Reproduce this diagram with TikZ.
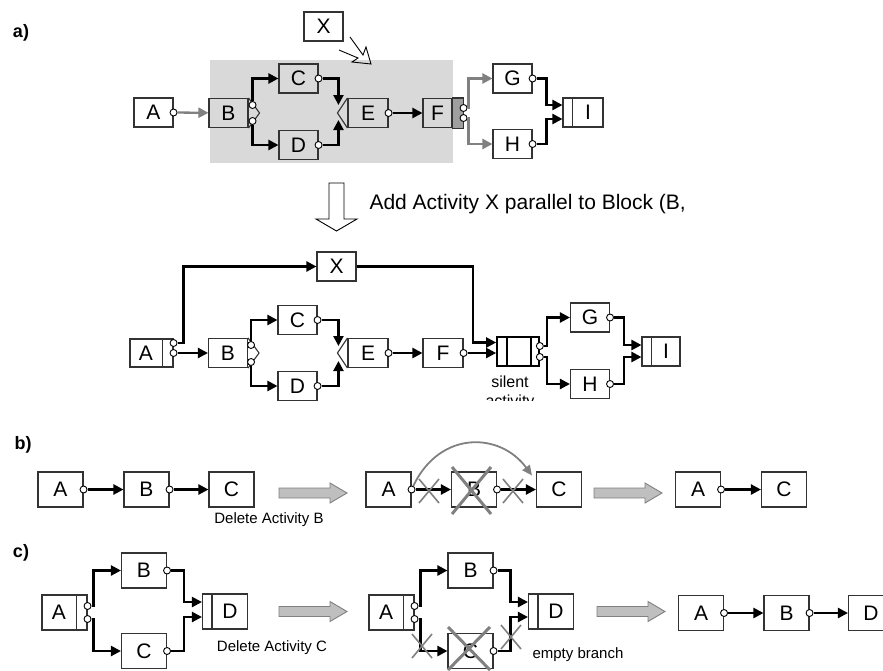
\documentclass[tikz,border=0pt]{standalone}
\usepackage{fontspec}
\setmainfont{Liberation Sans}
\usetikzlibrary{arrows.meta}

\newcommand{\actfont}{\fontsize{21}{24}\selectfont}
\newcommand{\notefont}{\fontsize{15}{18}\selectfont}
\newcommand{\partfont}{\fontsize{18}{20}\selectfont\bfseries}

\tikzset{
  boxline/.style={draw=black!80, line width=1.1pt},
  box/.style={boxline, minimum width=39pt, minimum height=29pt, inner sep=0pt, font=\actfont},
  bigbox/.style={box, minimum width=45pt, minimum height=35pt},
  port/.style={circle, draw=black, fill=white, line width=0.9pt, minimum size=7pt, inner sep=0pt},
  flow/.style={line width=2.3pt, -{Triangle[length=10pt,width=10pt]}},
  oldflow/.style={flow, draw=gray, -{Triangle[length=10pt,width=10pt,fill=gray]}},
  cross/.style={draw=gray, line width=1.6pt},
  bigcross/.style={draw=gray, line width=3pt},
  xmark/.pic={\draw[cross] (-10,-12) -- (10,12) (-10,12) -- (10,-12);},
  fatarrow/.pic={\draw[draw=gray, fill=gray!50, line width=0.9pt]
    (0,-5) -- (51,-5) -- (51,-10) -- (68,0) -- (51,10) -- (51,5) -- (0,5) -- cycle;}
}

\begin{document}
\begin{tikzpicture}[x=1pt, y=-1pt]
\useasboundingbox (0,0) rectangle (883,670);

% ---- a) process before the change
\node[font=\partfont] (la) at (21,33) {a)};
\fill[gray!30] (210,60) rectangle (453,163);
\node[box] (X) at (323.5,26.5) {X};
\draw[line width=0.9pt] (350,37) -- (363,55) -- (366,47) -- (371,64) -- (352,62) -- (358,58) -- (339,50);

\node[box] (A) at (153.5,112.5) {A};
\node[box] (B) at (228.5,113) {B};
\draw[boxline] (B.north east) -- ([xshift=11pt]B.east) -- (B.south east);
\node[box] (C) at (298.5,78.5) {C};
\node[box] (D) at (298.5,145) {D};
\node[box, minimum width=40pt] (E) at (368,113) {E};
\draw[boxline] (E.north west) -- ([xshift=-10pt]E.west) -- (E.south west);
\coordinate (Ej1) at ([xshift=-9pt,yshift=8pt]E.west);
\coordinate (Ej2) at ([xshift=-9pt,yshift=-7pt]E.west);
\node[box, minimum width=29pt] (F) at (437.5,113) {F};
\draw[boxline, fill=gray!75] (F.north east) rectangle ([xshift=11pt]F.south east);
\node[box] (G) at (512.5,78.5) {G};
\node[box] (H) at (512.5,144) {H};
\node[box, minimum width=40pt] (I) at (583,112.5) {\hspace*{10pt}I};
\draw[boxline] ([xshift=10pt]I.north west) -- ([xshift=10pt]I.south west);

\node[port] (pA) at (A.east) {};
\node[port] (pB1) at ([xshift=4pt,yshift=8pt]B.east) {};
\node[port] (pB2) at ([xshift=4pt,yshift=-8pt]B.east) {};
\node[port] (pC) at (C.east) {};
\node[port] (pD) at (D.east) {};
\node[port] (pE) at (E.east) {};
\node[port] (pF1) at ([xshift=11pt,yshift=5pt]F.east) {};
\node[port] (pF2) at ([xshift=11pt,yshift=-5pt]F.east) {};
\node[port] (pG) at (G.east) {};
\node[port] (pH) at (H.east) {};

\draw[oldflow] (pA) -- (B);
\draw[flow] (pB1) |- (C);
\draw[flow] (pB2) |- (D);
\draw[flow] (pC) -| (Ej1);
\draw[flow] (pD) -| (Ej2);
\draw[flow] (pE) -- (F);
\draw[oldflow] (pF1) -- ++(5,0) |- (G);
\draw[oldflow] (pF2) -- ++(5,0) |- (H);
\draw[flow] (pG) -- ++(14,0) |- ([yshift=7.5pt]I.west);
\draw[flow] (pH) -- ++(14,0) |- ([yshift=-6.5pt]I.west);

% change operation
\draw[line width=0.9pt, fill=white] (329,183) -- (344,183) -- (344,219) -- (357,219)
  -- (336.5,231) -- (316,219) -- (329,219) -- cycle;
\node[anchor=west, font=\fontsize{21}{24}\selectfont] (op) at (366,204) {Add Activity X parallel to Block (B,};

% ---- a) process after the change
\node[box] (X2) at (336.5,266.5) {X};
\node[box, minimum width=43pt, minimum height=28pt] (A2) at (151.5,353) {A\hspace*{11pt}};
\draw[boxline] ([xshift=-11pt]A2.north east) -- ([xshift=-11pt]A2.south east);
\node[box] (B2) at (228,353) {B};
\draw[boxline] (B2.north east) -- ([xshift=11pt]B2.east) -- (B2.south east);
\node[box] (C2) at (297.5,320) {C};
\node[box] (D2) at (297.5,386) {D};
\node[box, minimum width=40pt] (E2) at (368,353) {E};
\draw[boxline] (E2.north west) -- ([xshift=-10pt]E2.west) -- (E2.south west);
\coordinate (Ej3) at ([xshift=-9pt,yshift=7pt]E2.west);
\coordinate (Ej4) at ([xshift=-9pt,yshift=-8pt]E2.west);
\node[box, minimum width=40pt] (F2) at (443,353) {F};
\node[box, minimum width=42pt, line width=1.7pt, draw=black] (S) at (518,351.5) {};
\draw[line width=1.7pt] ([xshift=11pt]S.north west) -- ([xshift=11pt]S.south west);
\draw[line width=1.7pt] ([xshift=-9pt]S.north east) -- ([xshift=-9pt]S.south east);
\node[font=\fontsize{16}{19}\selectfont, anchor=base] (sil) at (510,387) {silent};
\begin{scope}
  \clip (470,392) rectangle (560,400.5);
  \node[font=\fontsize{16}{19}\selectfont, anchor=base] (act) at (510,406.5) {activity};
\end{scope}
\node[box] (G2) at (590,317.5) {G};
\node[box] (H2) at (590,384) {H};
\node[box, minimum width=38pt] (I2) at (661,351.5) {\hspace*{10pt}I};
\draw[boxline] ([xshift=10pt]I2.north west) -- ([xshift=10pt]I2.south west);

\node[port] (pA2a) at ([yshift=10pt]A2.east) {};
\node[port] (pA2b) at (A2.east) {};
\node[port] (pB2a) at ([xshift=3pt,yshift=8pt]B2.east) {};
\node[port] (pB2b) at ([xshift=3pt,yshift=-9pt]B2.east) {};
\node[port] (pC2) at (C2.east) {};
\node[port] (pD2) at (D2.east) {};
\node[port] (pE2) at (E2.east) {};
\node[port] (pF2x) at (F2.east) {};
\node[port] (pS1) at ([yshift=5.5pt]S.east) {};
\node[port] (pS2) at ([yshift=-5.5pt]S.east) {};
\node[port] (pG2) at (G2.east) {};
\node[port] (pH2) at (H2.east) {};

\draw[flow] (pA2a) -- ++(10,0) |- (X2);
\draw[flow] (pA2b) -- (B2);
\draw[flow] (pB2a) |- (C2);
\draw[flow] (pB2b) |- (D2);
\draw[flow] (pC2) -| (Ej3);
\draw[flow] (pD2) -| (Ej4);
\draw[flow] (pE2) -- (F2);
\draw[flow] (X2.east) -- ++(116.5,0) |- ([yshift=9pt]S.west);
\draw[flow] (pF2x) -- (pF2x -| S.west);
\draw[flow] (pS1) -- ++(7,0) |- (G2);
\draw[flow] (pS2) -- ++(7,0) |- (H2);
\draw[flow] (pG2) -- ++(14,0) |- ([yshift=6.5pt]I2.west);
\draw[flow] (pH2) -- ++(14,0) |- ([yshift=-5.5pt]I2.west);

% ---- b) delete activity
\node[font=\partfont] (lb) at (23,445) {b)};
\node[bigbox] (bA) at (60.5,489.5) {A};
\node[bigbox] (bB) at (146.5,489.5) {B};
\node[bigbox] (bC) at (231.5,489.5) {C};
\node[port] (pbA) at (bA.east) {};
\node[port] (pbB) at (bB.east) {};
\draw[flow] (pbA) -- (bB);
\draw[flow] (pbB) -- (bC);
\pic at (279,493) {fatarrow};
\node[font=\notefont] (delB) at (269,520) {Delete Activity B};

\node[bigbox] (dA) at (388.5,489.5) {A};
\node[bigbox] (dB) at (474,489.5) {B};
\node[bigbox] (dC) at (559,489.5) {C};
\node[port] (pdA) at (dA.east) {};
\node[port] (pdB) at (dB.east) {};
\draw[flow] (pdA) -- (dB);
\draw[flow] (pdB) -- (dC);
\pic at (429,491) {xmark};
\pic at (513,491) {xmark};
\draw[bigcross] (452,467) -- (491,514) (491,467) -- (452,514);
\draw[gray, line width=1.8pt, -{Triangle[length=10pt,width=9pt,fill=gray]}]
  (pdA) .. controls (440,430) and (500,432) .. ([xshift=-4pt,yshift=-4pt]dC.north west);
\pic at (594,493) {fatarrow};

\node[bigbox] (rbA) at (698,489.5) {A};
\node[bigbox] (rbC) at (784,489.5) {C};
\node[port] (prbA) at (rbA.east) {};
\draw[flow] (prbA) -- (rbC);

% ---- c) delete activity in a branch
\node[font=\partfont] (lc) at (21,553) {c)};
\node[bigbox] (cA) at (64.5,612.5) {A\hspace*{11pt}};
\draw[boxline] ([xshift=-11pt]cA.north east) -- ([xshift=-11pt]cA.south east);
\node[bigbox] (cB) at (144,570.5) {B};
\node[bigbox] (cC) at (144,651) {C};
\node[bigbox] (cD) at (225,611.5) {\hspace*{10pt}D};
\draw[boxline] ([xshift=10pt]cD.north west) -- ([xshift=10pt]cD.south west);
\node[port] (pcA1) at ([yshift=6.5pt]cA.east) {};
\node[port] (pcA2) at ([yshift=-6.5pt]cA.east) {};
\node[port] (pcB) at (cB.east) {};
\node[port] (pcC) at (cC.east) {};
\draw[flow] (pcA1) -- ++(6,0) |- (cB);
\draw[flow] (pcA2) -- ++(6,0) |- (cC);
\draw[flow] (pcB) -- ++(17,0) |- ([yshift=9.5pt]cD.west);
\draw[flow] (pcC) -- ++(17,0) |- ([yshift=-5.5pt]cD.west);
\pic at (279,611.5) {fatarrow};
\node[font=\notefont] (delC) at (272,648) {Delete Activity C};

\node[bigbox] (c2A) at (391.5,612.5) {A\hspace*{11pt}};
\draw[boxline] ([xshift=-11pt]c2A.north east) -- ([xshift=-11pt]c2A.south east);
\node[bigbox] (c2B) at (470.5,570.5) {B};
\node[bigbox] (c2C) at (470.5,651) {C};
\node[bigbox] (c2D) at (551,611.5) {\hspace*{10pt}D};
\draw[boxline] ([xshift=10pt]c2D.north west) -- ([xshift=10pt]c2D.south west);
\node[port] (pc2A1) at ([yshift=6.5pt]c2A.east) {};
\node[port] (pc2A2) at ([yshift=-6.5pt]c2A.east) {};
\node[port] (pc2B) at (c2B.east) {};
\node[port] (pc2C) at (c2C.east) {};
\draw[flow] (pc2A1) -- ++(6,0) |- (c2B);
\draw[flow] (pc2A2) -- ++(6,0) |- (c2C);
\draw[flow] (pc2B) -- ++(17,0) |- ([yshift=9.5pt]c2D.west);
\draw[flow] (pc2C) -- ++(17,0) |- ([yshift=-5.5pt]c2D.west);
\pic at (422,646) {xmark};
\pic at (511,637) {xmark};
\draw[bigcross] (448,627) -- (490,670) (490,627) -- (448,670);
\node[font=\notefont, anchor=west] (empty) at (529,655) {empty branch};
\pic at (597,611.5) {fatarrow};

\node[bigbox] (rcA) at (701,613) {A};
\node[bigbox] (rcB) at (786.5,613) {B};
\node[bigbox] (rcD) at (871,613) {D};
\node[port] (prcA) at (rcA.east) {};
\node[port] (prcB) at (rcB.east) {};
\draw[flow] (prcA) -- (rcB);
\draw[flow] (prcB) -- (rcD);
\end{tikzpicture}
\end{document}
